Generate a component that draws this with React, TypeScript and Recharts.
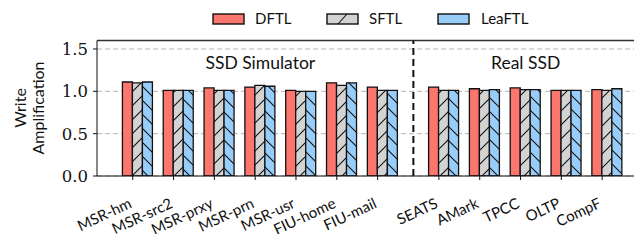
import React from "react";
import {
  ComposedChart,
  Bar,
  XAxis,
  YAxis,
  CartesianGrid,
  ReferenceLine,
  ReferenceDot,
} from "recharts";

const categories = [
  "MSR-hm", "MSR-src2", "MSR-prxy", "MSR-prn", "MSR-usr", "FIU-home", "FIU-mail",
  "SEATS", "AMark", "TPCC", "OLTP", "CompF",
];
const dftl = [1.11, 1.01, 1.04, 1.05, 1.01, 1.1, 1.05, 1.05, 1.03, 1.04, 1.01, 1.02];
const sftl = [1.1, 1.01, 1.01, 1.07, 1.0, 1.07, 1.01, 1.01, 1.01, 1.02, 1.01, 1.01];
const leaftl = [1.11, 1.01, 1.01, 1.06, 1.0, 1.1, 1.01, 1.01, 1.02, 1.02, 1.01, 1.03];
const yTicks = [0, 0.5, 1.0, 1.5];
const simCount = 7; // first 7 traces are simulator, rest real SSD

const RED = "#fb766d";
const GRAY = "#d3d3d3";
const BLUE = "#98cdf9";
const SANS = "Lato, 'Open Sans', sans-serif";
const SERIF = "'DejaVu Serif', 'Liberation Serif', serif";

// tick positions, half-slot gap between the two groups
const tickPos = categories.map((_, i) => (i < simCount ? i : i + 0.5));
const groupShift = 0.125; // ticks sit at the red/gray boundary
const data = categories.map((name, i) => ({
  name,
  x: tickPos[i] + groupShift,
  dftl: dftl[i],
  sftl: sftl[i],
  leaftl: leaftl[i],
}));

const sepX = (data[simCount - 1].x + data[simCount].x) / 2;
const simCenter = (data[0].x + data[simCount - 1].x) / 2;
const realCenter = (data[simCount].x + data[data.length - 1].x) / 2;

const XTick = (props: any) => {
  const { x, y, payload } = props;
  const i = tickPos.indexOf(payload.value);
  const ax = x;
  const ay = y + 25;
  return (
    <text
      x={ax}
      y={ay}
      transform={`rotate(-25, ${ax}, ${ay})`}
      textAnchor="end"
      fontFamily={SANS}
      fontSize={15}
      fill="#111"
    >
      {categories[i]}
    </text>
  );
};

const YLabel = () => (
  <text
    transform="translate(0, 108) rotate(-90)"
    textAnchor="middle"
    fontFamily={SANS}
    fontSize={16}
    fill="#111"
  >
    <tspan x={0} y={25.5}>Write</tspan>
    <tspan x={0} y={43.5}>Amplification</tspan>
  </text>
);

const legendItems = [
  { label: "DFTL", fill: RED, hatch: false, left: 212, text: 255 },
  { label: "SFTL", fill: GRAY, hatch: true, left: 326, text: 369 },
  { label: "LeaFTL", fill: BLUE, hatch: false, left: 437, text: 481 },
];

export default function App() {
  return (
    <div style={{ position: "relative", width: 642, height: 242, margin: -8, overflow: "hidden", background: "#fff" }}>
      <ComposedChart
        width={650}
        height={242}
        data={data}
        margin={{ top: 40.5, right: 7, bottom: 0, left: 0 }}
        barGap={0}
        barSize={10}
      >
        <defs>
          <pattern id="hatchF" patternUnits="userSpaceOnUse" width={14} height={14}>
            <rect width={14} height={14} fill={GRAY} />
            <path d="M0,14 L14,0 M-2,2 L2,-2 M12,16 L16,12" stroke="#111" strokeWidth={1.1} />
          </pattern>
          <pattern id="hatchB" patternUnits="userSpaceOnUse" width={14} height={14}>
            <rect width={14} height={14} fill={BLUE} />
            <path d="M0,0 L14,14 M-2,12 L2,16 M12,-2 L16,2" stroke="#111" strokeWidth={1.1} />
          </pattern>
        </defs>
        <CartesianGrid vertical={false} stroke="#b5b5b5" strokeDasharray="5 3" />
        <XAxis
          dataKey="x"
          type="number"
          domain={[-0.875, 12.5]}
          allowDataOverflow
          ticks={tickPos}
          interval={0}
          tick={<XTick />}
          tickSize={4}
          stroke="#111"
          height={66}
        />
        <YAxis
          type="number"
          domain={[0, 1.6]}
          allowDataOverflow
          ticks={yTicks}
          tickFormatter={(v) => Number(v).toFixed(1)}
          tick={{ fill: "#111", fontFamily: SERIF, fontSize: 16.5 }}
          tickSize={4}
          tickMargin={5}
          width={97}
          stroke="#111"
        />
        <ReferenceLine y={1.6} stroke="#333" strokeWidth={1.5} />
        <ReferenceLine x={sepX} stroke="#111" strokeWidth={2} strokeDasharray="7 4" />
        <ReferenceDot
          x={simCenter}
          y={1.335}
          r={0}
          ifOverflow="visible"
          label={{ value: "SSD Simulator", position: "center", fill: "#111", fontFamily: SANS, fontSize: 17.5 }}
        />
        <ReferenceDot
          x={realCenter}
          y={1.335}
          r={0}
          ifOverflow="visible"
          label={{ value: "Real SSD", position: "center", fill: "#111", fontFamily: SANS, fontSize: 17.5 }}
        />
        <Bar dataKey="dftl" fill={RED} stroke="#111" strokeWidth={1.3} isAnimationActive={false} />
        <Bar dataKey="sftl" fill="url(#hatchF)" stroke="#111" strokeWidth={1.3} isAnimationActive={false} />
        <Bar dataKey="leaftl" fill="url(#hatchB)" stroke="#111" strokeWidth={1.3} isAnimationActive={false} />
        <YLabel />
      </ComposedChart>
      {legendItems.map((it) => (
        <React.Fragment key={it.label}>
          <svg
            style={{ position: "absolute", left: it.left, top: 13 }}
            width={33}
            height={12}
          >
            <rect x={1} y={1} width={31} height={10} fill={it.fill} stroke="#111" strokeWidth={1.4} />
            {it.hatch && <path d="M12,11 L21,1" stroke="#111" strokeWidth={1.1} />}
          </svg>
          <span
            style={{
              position: "absolute",
              left: it.text,
              top: 10,
              fontFamily: SANS,
              fontSize: 15,
              lineHeight: "16px",
              color: "#111",
            }}
          >
            {it.label}
          </span>
        </React.Fragment>
      ))}
    </div>
  );
}
